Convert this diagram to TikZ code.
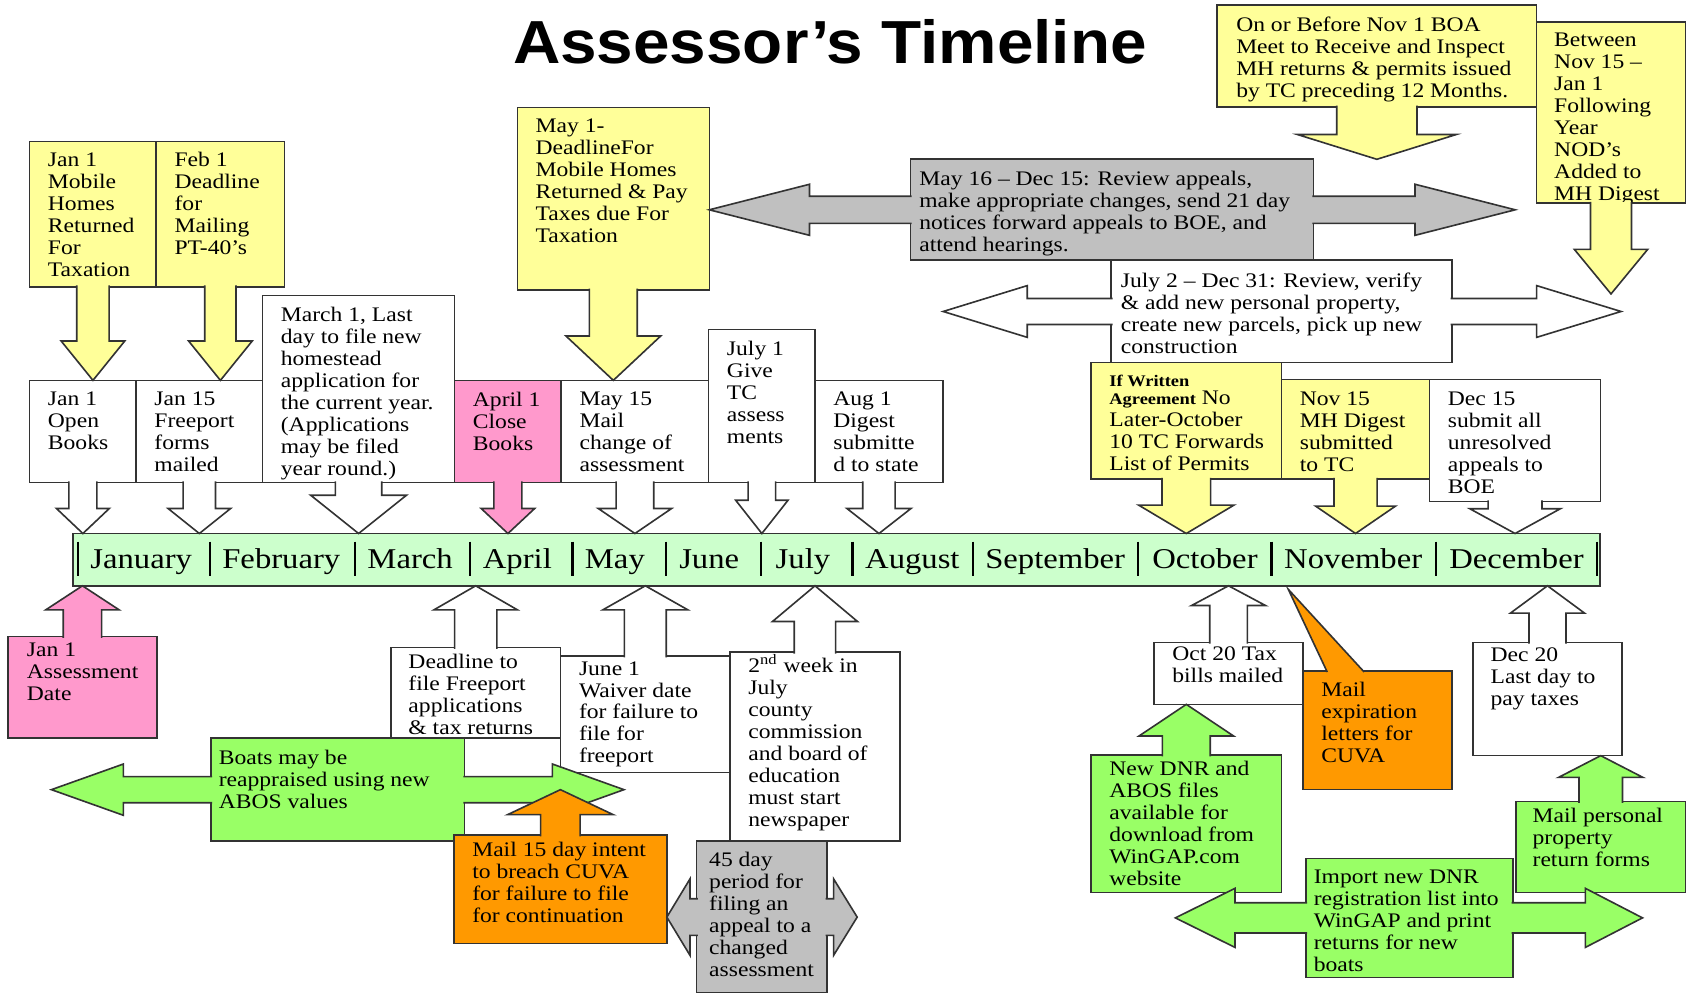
\documentclass[tikz,border=0pt]{standalone}
\usepackage{fontspec}
\setmainfont{Liberation Serif}[FakeStretch=1.14]
\newfontfamily\titlefont{Liberation Sans}[FakeStretch=1.08]
\usepackage{tikz}
\usetikzlibrary{calc, fit}

\definecolor{yellowfill}{HTML}{FFFF99}
\definecolor{pinkfill}{HTML}{FF99CC}
\definecolor{barfill}{HTML}{CCFFCC}
\definecolor{greenfill}{HTML}{99FF66}
\definecolor{orangefill}{HTML}{FF9900}
\definecolor{grayfill}{HTML}{C0C0C0}

\tikzset{
    box/.style={draw=black!80, line width=0.75pt, inner sep=0pt, outer sep=0pt},
    whitebox/.style={box, fill=white},
    yellowbox/.style={box, fill=yellowfill},
    pinkbox/.style={box, fill=pinkfill},
    greenbox/.style={box, fill=greenfill},
    orangebox/.style={box, fill=orangefill},
    graybox/.style={box, fill=grayfill},
    txt/.style={anchor=north west, align=left, inner xsep=8.5pt, inner ysep=5.3pt, outer sep=0pt},
    month/.style={anchor=base, font=\fontsize{13.3}{15}\selectfont},
}

\newcommand{\vblock}[6]{%
    \filldraw[#1] let \p1=(#2), \p2=(#3), \n1={ifthenelse(\y1>\y2,1,-1)} in
        ({\x1-#4},{\y1+(\n1)*0.6pt}) -- ({\x1-#4},{\y2+(\n1)*#6}) -- ({\x1-#5},{\y2+(\n1)*#6}) -- (\x1,\y2)
        -- ({\x1+#5},{\y2+(\n1)*#6}) -- ({\x1+#4},{\y2+(\n1)*#6}) -- ({\x1+#4},{\y1+(\n1)*0.6pt});
}
\newcommand{\hblock}[6]{%
    \filldraw[#1] let \p1=(#2), \p2=(#3), \n1={ifthenelse(\x1>\x2,1,-1)} in
        ({\x1+(\n1)*0.6pt},{\y1-#4}) -- ({\x2+(\n1)*#6},{\y1-#4}) -- ({\x2+(\n1)*#6},{\y1-#5}) -- (\x2,\y1)
        -- ({\x2+(\n1)*#6},{\y1+#5}) -- ({\x2+(\n1)*#6},{\y1+#4}) -- ({\x1+(\n1)*0.6pt},{\y1+#4});
}

\begin{document}
\begin{tikzpicture}[x=0.5pt, y=-0.5pt, font=\fontsize{9.6}{10.2}\selectfont]

    \useasboundingbox (0,0) rectangle (1568,921);

    \node[anchor=base, font=\titlefont\bfseries\fontsize{28.2}{34}\selectfont] (title) at (770,59) {Assessor’s Timeline};

    \node[box, fill=barfill, fit={(67.5,495) (1484.2,543.5)}] (bar) {};
    \foreach \x in {72.3,195.2,329.4,435.9,531.2,618,706,791,903,1056.2,1179.7,1332.5,1481.7}
        \draw[line width=1pt] (\x,502.6) -- (\x,534.4);
    \foreach \m/\x in {January/131,February/261,March/380.5,April/480,May/570.5,June/658,July/745,August/846.5,September/979,October/1118,November/1255.5,December/1407}
        \node[month] (\m) at (\x,527.3) {\m};

    \node[whitebox, fit={(27.5,352.9) (126.3,447.8)}] (jan1ob) {};
    \node[txt] (jan1ob-t) at (jan1ob.north west) {Jan 1\\Open\\Books};
    \node[whitebox, fit={(126.3,352.9) (243.6,447.8)}] (jan15) {};
    \node[txt] (jan15-t) at (jan15.north west) {Jan 15\\Freeport\\forms\\mailed};
    \node[whitebox, fit={(243.6,274.3) (421.8,447.8)}] (mar1) {};
    \node[txt, inner ysep=5.15pt] (mar1-t) at (mar1.north west) {March 1, Last\\day to file new\\homestead\\application for\\the current year.\\(Applications\\may be filed\\year round.)};
    \node[pinkbox, fit={(421.8,352.9) (520.7,447.8)}] (apr1) {};
    \node[txt] (apr1-t) at (apr1.north west) {April 1\\Close\\Books};
    \node[whitebox, fit={(520.7,352.9) (657.5,447.8)}] (may15) {};
    \node[txt] (may15-t) at (may15.north west) {May 15\\Mail\\change of\\assessment};
    \node[whitebox, fit={(657.5,305.6) (756.2,447.8)}] (jul1) {};
    \node[txt, inner ysep=5.5pt] (jul1-t) at (jul1.north west) {July 1\\Give\\TC\\assess\\ments};
    \node[whitebox, fit={(756.2,352.9) (874.8,447.8)}] (aug1) {};
    \node[txt] (aug1-t) at (aug1.north west) {Aug 1\\Digest\\submitte\\d to state};
    \node[yellowbox, fit={(1012.3,336.5) (1189,444.6)}] (written) {};
    \node[txt, inner ysep=5.65pt] (written-t) at (written.north west) {{\fontsize{7.5}{10.2}\selectfont\bfseries If Written}\\[-1.7pt]{\fontsize{7.5}{10.2}\selectfont\bfseries Agreement} No\\Later-October\\10 TC Forwards\\List of Permits};
    \node[yellowbox, fit={(1189,352) (1326.4,444.6)}] (nov15) {};
    \node[txt, inner ysep=5.8pt] (nov15-t) at (nov15.north west) {Nov 15\\MH Digest\\submitted\\to TC};
    \node[whitebox, fit={(1326.4,352) (1485,465.4)}] (dec15) {};
    \node[txt, inner ysep=5.8pt] (dec15-t) at (dec15.north west) {Dec 15\\submit all\\unresolved\\appeals to\\BOE};

    \vblock{whitebox}{jan1ob.south}{bar.north -| jan1ob.south}{6.5pt}{12.25pt}{11.6pt}
    \vblock{whitebox}{jan15.south}{bar.north -| jan15.south}{7.5pt}{14.5pt}{11.6pt}
    \vblock{whitebox}{mar1.south}{bar.north -| mar1.south}{10.75pt}{22.2pt}{17.75pt}
    \vblock{pinkbox}{apr1.south}{bar.north -| apr1.south}{6.5pt}{12.4pt}{11.6pt}
    \vblock{whitebox}{may15.south}{bar.north -| may15.south}{8.7pt}{17pt}{11.6pt}
    \vblock{whitebox}{jul1.south}{bar.north -| jul1.south}{6.4pt}{12.15pt}{15.45pt}
    \vblock{whitebox}{aug1.south}{bar.north -| aug1.south}{7.5pt}{14.85pt}{11.6pt}
    \vblock{yellowbox}{written.south}{bar.north -| written.south}{11.3pt}{22.15pt}{13.2pt}
    \vblock{yellowbox}{nov15.south}{bar.north -| nov15.south}{10pt}{18.5pt}{12.7pt}
    \vblock{whitebox}{dec15.south}{bar.north -| dec15.south}{12.5pt}{21pt}{11.5pt}

    \node[yellowbox, fit={(27.5,131.4) (145,266)}] (jan1mh) {};
    \node[txt, inner ysep=5.1pt] (jan1mh-t) at (jan1mh.north west) {Jan 1\\Mobile\\Homes\\Returned\\For\\Taxation};
    \node[yellowbox, fit={(145,131.4) (264,266)}] (feb1) {};
    \node[txt, inner ysep=5.1pt] (feb1-t) at (feb1.north west) {Feb 1\\Deadline\\for\\Mailing\\PT-40's};
    \vblock{yellowbox}{jan1mh.south}{jan1ob.north -| jan1mh.south}{7.5pt}{14.75pt}{18.25pt}
    \vblock{yellowbox}{feb1.south}{jan15.north -| feb1.south}{7.25pt}{14.75pt}{18.25pt}

    \node[yellowbox, fit={(480,99.6) (658.1,269)}] (may1) {};
    \node[txt, inner ysep=5.5pt] (may1-t) at (may1.north west) {May 1-\\DeadlineFor\\Mobile Homes\\Returned \& Pay\\Taxes due For\\Taxation};
    \vblock{yellowbox}{may1.south}{may15.north -| may1.south}{11.1pt}{22pt}{20.6pt}

    \node[graybox, fit={(844.6,147.8) (1218.8,241.5)}] (rev) {};
    \node[txt, inner xsep=4.2pt, inner ysep=5.4pt] (rev-t) at (rev.north west) {May 16 – Dec 15: Review appeals,\\make appropriate changes, send 21 day\\notices forward appeals to BOE, and\\attend hearings.};
    \coordinate (revR) at (1405.8,194.6);
    \hblock{graybox}{rev.west}{may1.east |- rev.west}{6.3pt}{11.85pt}{46.5pt}
    \hblock{graybox}{rev.east}{revR}{6.3pt}{11.85pt}{46.5pt}

    \node[whitebox, fit={(1031,241.5) (1347,336.5)}] (jul2) {};
    \node[txt, inner xsep=4.5pt, inner ysep=6.05pt] (jul2-t) at (jul2.north west) {July 2 – Dec 31: Review, verify\\\& add new personal property,\\create new parcels, pick up new\\construction};
    \coordinate (jul2L) at (875.1,289);
    \coordinate (jul2R) at (1504,289);
    \hblock{whitebox}{jul2.west}{jul2L}{6.05pt}{12pt}{39pt}
    \hblock{whitebox}{jul2.east}{jul2R}{6.05pt}{12pt}{39.15pt}

    \node[yellowbox, fit={(1129.2,4.6) (1425.7,99.2)}] (boa) {};
    \node[txt, inner xsep=8.9pt, inner ysep=5.5pt] (boa-t) at (boa.north west) {On or Before Nov 1 BOA\\Meet to Receive and Inspect\\MH returns \& permits issued\\by TC preceding 12 Months.};
    \vblock{yellowbox}{boa.south}{rev.north -| boa.south}{18.6pt}{36.85pt}{11.5pt}

    \node[yellowbox, fit={(1425.7,20.5) (1563.7,188.4)}] (nod) {};
    \node[txt, inner xsep=8.15pt, inner ysep=5.05pt] (nod-t) at (nod.north west) {Between\\Nov 15 –\\Jan 1\\Following\\Year\\NOD's\\Added to\\MH Digest};
    \coordinate (nodTip) at (1494.7,272.7);
    \vblock{yellowbox}{nod.south}{nodTip}{9.5pt}{17pt}{20.65pt}

    \node[pinkbox, fit={(7.3,590.7) (145.7,685)}] (assess) {};
    \node[txt, inner xsep=8.85pt, inner ysep=2.95pt] (assess-t) at (assess.north west) {Jan 1\\Assessment\\Date};
    \vblock{pinkbox}{assess.north}{bar.south -| assess.north}{8.9pt}{17pt}{11.15pt}

    \node[whitebox, fit={(362.5,600.9) (520.2,685)}] (dlfree) {};
    \node[txt, inner xsep=8.25pt, inner ysep=2.85pt] (dlfree-t) at (dlfree.north west) {Deadline to\\file Freeport\\applications\\\& tax returns};
    \vblock{whitebox}{dlfree.north}{bar.south -| dlfree.north}{9.8pt}{19.35pt}{11.15pt}

    \node[whitebox, fit={(520.2,608.7) (677.3,716.9)}] (jun1) {};
    \node[txt, inner ysep=2.45pt] (jun1-t) at (jun1.north west) {June 1\\Waiver date\\for failure to\\file for\\freeport};
    \vblock{whitebox}{jun1.north}{bar.south -| jun1.north}{9.7pt}{19.7pt}{11.15pt}

    \node[whitebox, fit={(677.3,605.2) (835,780.3)}] (wk2) {};
    \node[txt, inner ysep=1.2pt] (wk2-t) at (wk2.north west) {2\textsuperscript{nd} week in\\July\\county\\commission\\and board of\\education\\must start\\newspaper};
    \vblock{whitebox}{wk2.north}{bar.south -| wk2.north}{9.6pt}{19.7pt}{16.55pt}

    \node[whitebox, fit={(1070.7,596) (1209,653.5)}] (oct20) {};
    \node[txt, inner ysep=1.8pt] (oct20-t) at (oct20.north west) {Oct 20 Tax\\bills mailed};
    \vblock{whitebox}{oct20.north}{bar.south -| oct20.north}{8.75pt}{17.15pt}{9.15pt}

    \node[orangebox, fit={(1209,622.3) (1346.9,732.4)}] (cuvaexp) {};
    \coordinate (expTip) at (1195.3,546.8);
    \filldraw[orangebox] ([xshift=11.2pt, yshift=-0.6pt]cuvaexp.north west) -- (expTip) -- ([xshift=28.35pt, yshift=-0.6pt]cuvaexp.north west);
    \node[txt, inner ysep=5.15pt] (cuvaexp-t) at (cuvaexp.north west) {Mail\\expiration\\letters for\\CUVA};

    \node[whitebox, fit={(1366.8,596) (1504.7,701.1)}] (dec20) {};
    \node[txt, inner xsep=8.1pt, inner ysep=2.3pt] (dec20-t) at (dec20.north west) {Dec 20\\Last day to\\pay taxes};
    \vblock{whitebox}{dec20.north}{bar.south -| dec20.north}{8.6pt}{17.15pt}{12.65pt}

    \node[greenbox, fit={(1012.2,700.5) (1189.1,827.9)}] (dnr) {};
    \node[txt, inner ysep=3.05pt] (dnr-t) at (dnr.north west) {New DNR and\\ABOS files\\available for\\download from\\WinGAP.com\\website};
    \vblock{greenbox}{dnr.north}{oct20.south -| dnr.north}{11.1pt}{21.95pt}{14.7pt}

    \node[greenbox, fit={(1406.6,743.8) (1563.7,827.9)}] (mailpp) {};
    \node[txt, inner xsep=7.7pt, inner ysep=2.9pt] (mailpp-t) at (mailpp.north west) {Mail personal\\property\\return forms};
    \vblock{greenbox}{mailpp.north}{dec20.south -| mailpp.north}{10.1pt}{19.6pt}{10.1pt}

    \node[greenbox, fit={(1211.5,796.4) (1403.6,906.8)}] (wingap) {};
    \node[txt, inner xsep=3.75pt, inner ysep=5.6pt] (wingap-t) at (wingap.north west) {Import new DNR\\registration list into\\WinGAP and print\\returns for new\\boats};
    \coordinate (wingapL) at (1090.5,851.6);
    \coordinate (wingapR) at (1523.9,851.6);
    \hblock{greenbox}{wingap.west}{wingapL}{7pt}{13.7pt}{27.65pt}
    \hblock{greenbox}{wingap.east}{wingapR}{7pt}{13.7pt}{26.5pt}

    \node[greenbox, fit={(195.6,685) (431.1,780.3)}] (boats) {};
    \node[txt, inner xsep=3.7pt, inner ysep=5.3pt] (boats-t) at (boats.north west) {Boats may be\\reappraised using new\\ABOS values};
    \coordinate (boatsL) at (47.7,732.7);
    \coordinate (boatsR) at (578.9,732.7);
    \hblock{greenbox}{boats.west}{boatsL}{6.05pt}{11.9pt}{33.4pt}
    \hblock{greenbox}{boats.east}{boatsR}{6.05pt}{11.9pt}{33.2pt}

    \node[orangebox, fit={(421.2,774.7) (618.7,875.2)}] (cuva15) {};
    \node[txt, inner ysep=3.45pt] (cuva15-t) at (cuva15.north west) {Mail 15 day intent\\to breach CUVA\\for failure to file\\for continuation};
    \vblock{orangebox}{cuva15.north}{boats.east -| cuva15.north}{9.15pt}{24.5pt}{11.6pt}

    \node[graybox, fit={(646.2,780.3) (767.1,921.5)}] (day45) {};
    \node[txt, inner xsep=5.9pt, inner ysep=5.15pt] (day45-t) at (day45.north west) {45 day\\period for\\filing an\\appeal to a\\changed\\assessment};
    \coordinate (day45R) at (795.3,850.9);
    \hblock{graybox}{day45.west}{cuva15.east |- day45.west}{8.5pt}{17.75pt}{10.75pt}
    \hblock{graybox}{day45.east}{day45R}{8.5pt}{17.75pt}{10.95pt}

\end{tikzpicture}
\end{document}
